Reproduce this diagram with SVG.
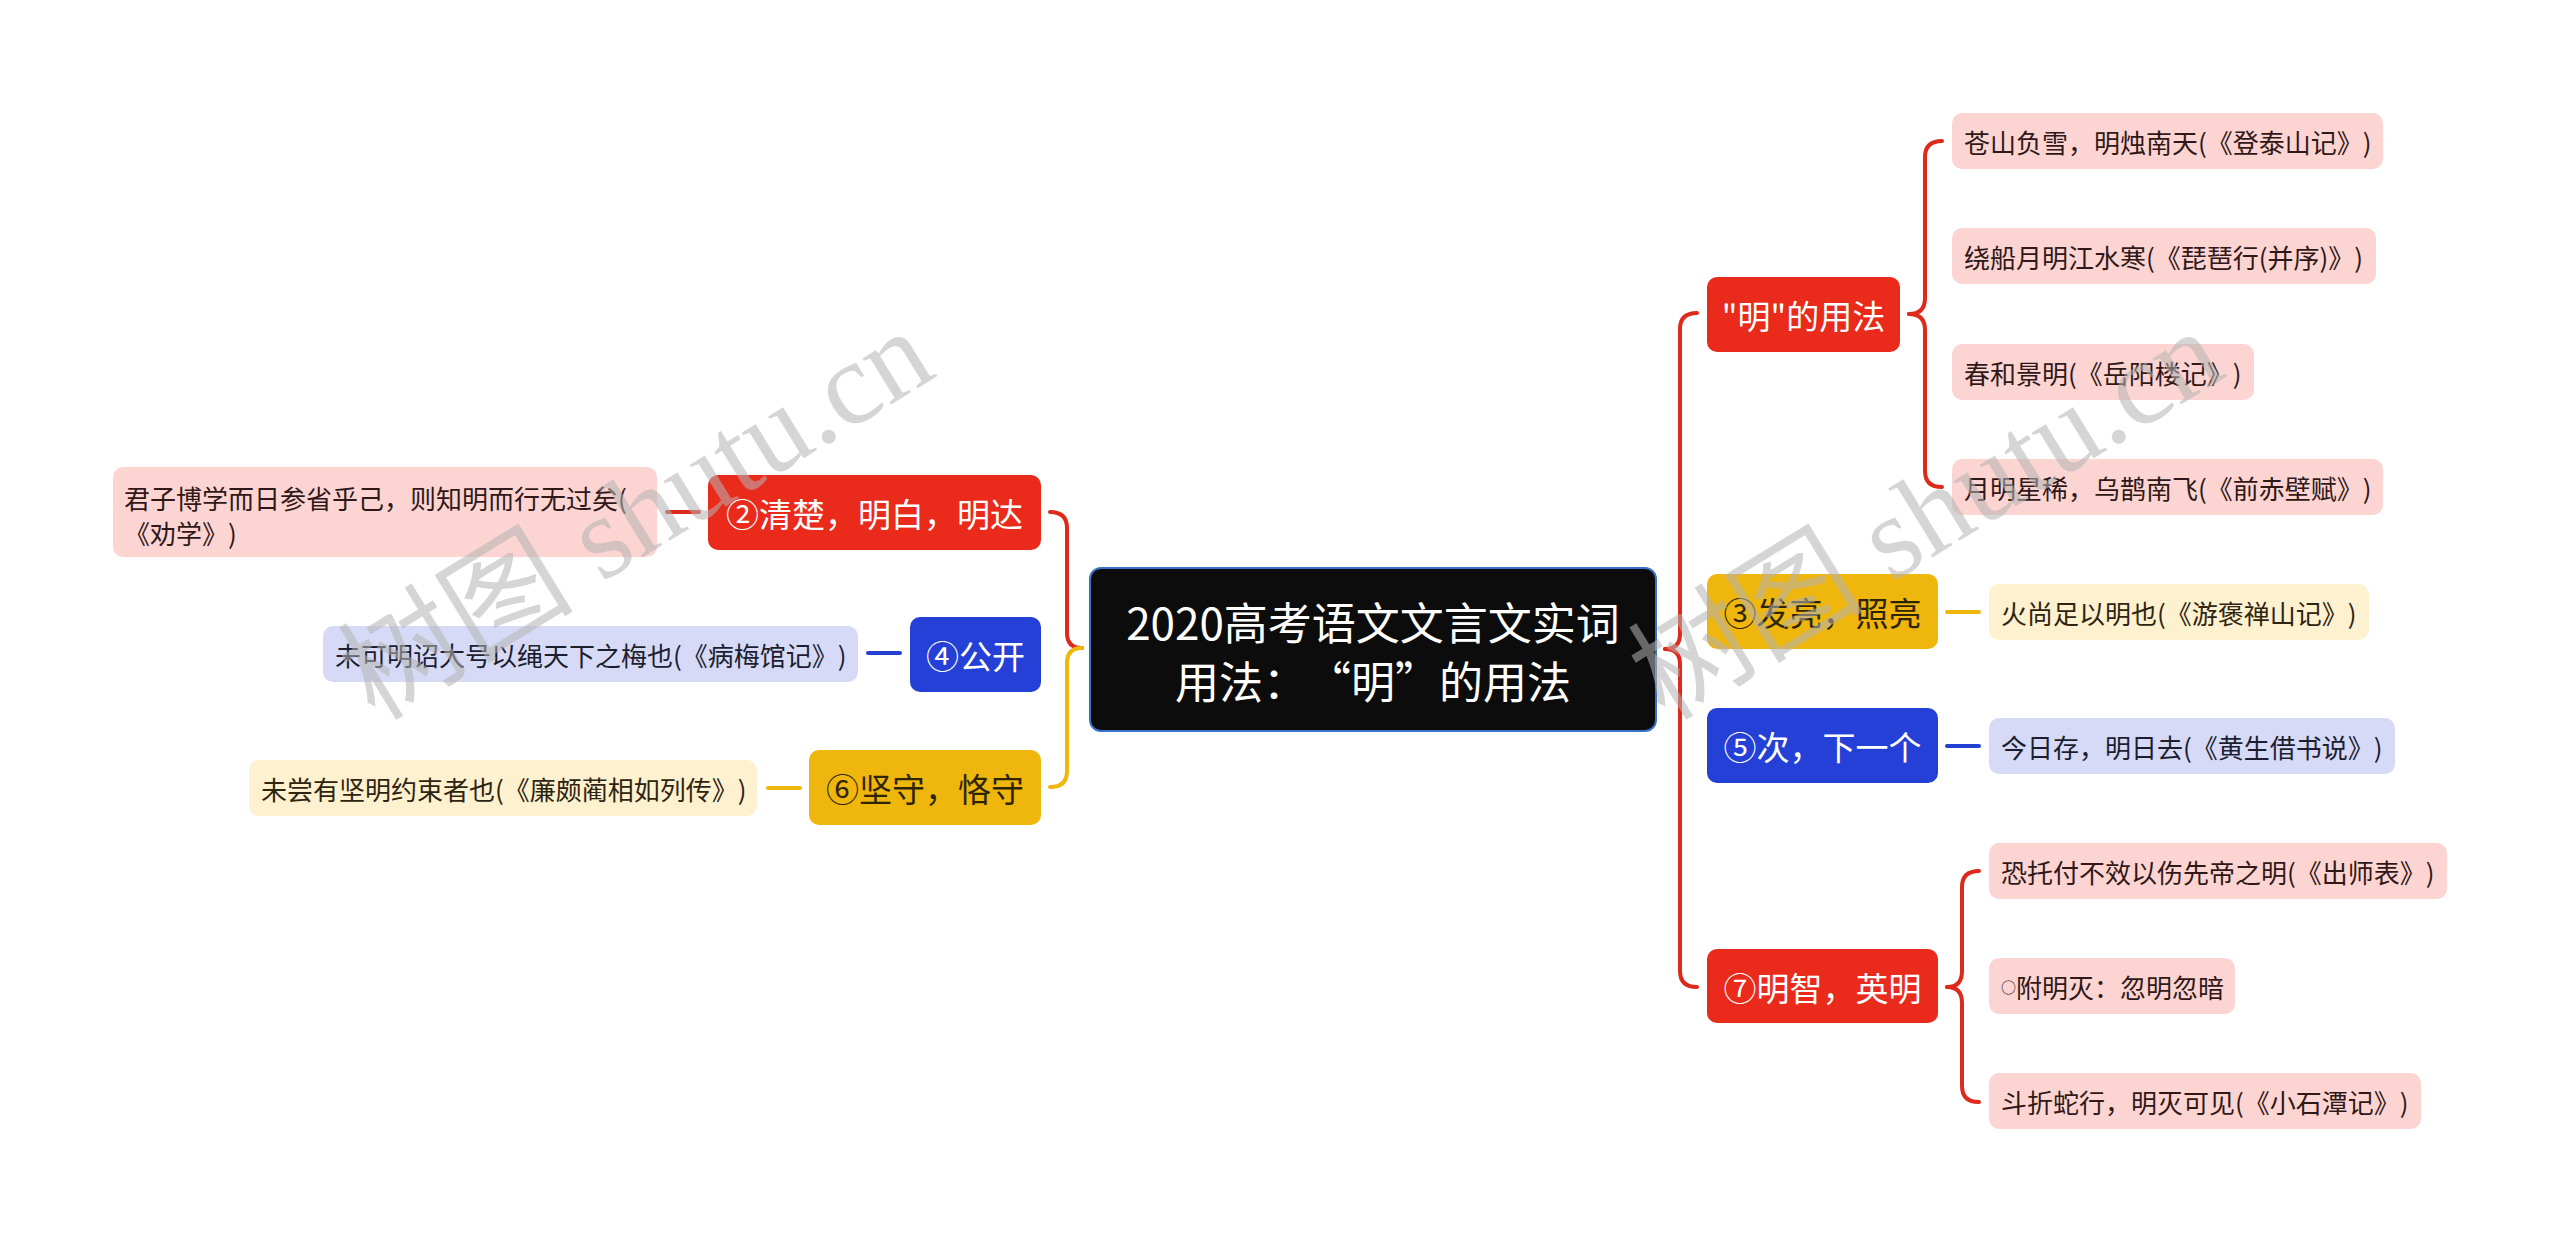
<svg xmlns="http://www.w3.org/2000/svg" width="2560" height="1243" viewBox="0 0 2560 1243">
<style>
text{font-family:"Noto Sans CJK SC","Noto Sans",sans-serif;dominant-baseline:central;text-spacing-trim:space-all}
.main{font-size:33px;text-anchor:middle}
.leaf{font-size:26px}
.w{fill:#ffffff}
.dk{fill:#2e2506}
.red{fill:#ea2a1b}
.yel{fill:#efb60d}
.blu{fill:#2440d6}
.lred{fill:#fcd5d3}
.lyel{fill:#fdf1d0}
.lblu{fill:#d6daf6}
.tr{fill:#301818}
.ty{fill:#2e2410}
.tb{fill:#1c1e30}
.c{fill:none;stroke-width:4;stroke-linecap:round}
.cr{stroke:#de2a1c}
.cy{stroke:#efb60d}
.cb{stroke:#2440d0}
.wm{font-family:"Liberation Serif","Noto Sans CJK SC",serif;font-size:118px;fill:#b4b4b4;opacity:0.55;dominant-baseline:alphabetic}
</style>
<rect width="2560" height="1243" fill="#ffffff"/>
<g id="connectors">
<path class="c cr" d="M1665 649 Q1680 649 1680 634 L1680 329 Q1680 313 1697 313"/>
<path class="c cr" d="M1665 649 Q1680 649 1680 664 L1680 971 Q1680 987 1697 987"/>
<path class="c cr" d="M1082 648 Q1067 648 1067 633 L1067 528 Q1067 512 1050 512"/>
<path class="c cy" d="M1082 648 Q1067 648 1067 663 L1067 771 Q1067 787 1050 787"/>
<path class="c cr" d="M1909 314 Q1925 314 1925 298 L1925 157 Q1925 141 1942 141"/>
<path class="c cr" d="M1909 314 Q1925 314 1925 330 L1925 471 Q1925 487 1942 487"/>
<path class="c cr" d="M1947 987 Q1962 987 1962 971 L1962 887 Q1962 871 1979 871"/>
<path class="c cr" d="M1947 987 Q1962 987 1962 1003 L1962 1086 Q1962 1102 1979 1102"/>
<path class="c cy" d="M1947 612 L1979 612"/>
<path class="c cb" d="M1947 746 L1979 746"/>
<path class="c cr" d="M667 512 L699 512"/>
<path class="c cb" d="M868 653 L900 653"/>
<path class="c cy" d="M768 788 L800 788"/>
</g>
<g id="root">
<rect x="1090" y="568" width="566" height="163" rx="11" fill="#0c0c0c" stroke="#3a72c8" stroke-width="2"/>
<text x="1373" y="621" font-size="44" text-anchor="middle" class="w">2020高考语文文言文实词</text>
<text x="1373" y="680" font-size="44" text-anchor="middle" class="w">用法：“明”的用法</text>
</g>
<g id="n-ming">
<rect class="red" x="1707" y="277" width="193" height="75" rx="10"/>
<text class="main w" x="1803.5" y="315">"明"的用法</text>
</g>
<g id="n3">
<rect class="yel" x="1707" y="574" width="231" height="75" rx="10"/>
<text class="main dk" x="1822.5" y="612">③发亮，照亮</text>
</g>
<g id="n5">
<rect class="blu" x="1707" y="708" width="231" height="75" rx="10"/>
<text class="main w" x="1822.5" y="746">⑤次，下一个</text>
</g>
<g id="n7">
<rect class="red" x="1707" y="949" width="231" height="74" rx="10"/>
<text class="main w" x="1822.5" y="987">⑦明智，英明</text>
</g>
<g id="n2">
<rect class="red" x="708" y="475" width="333" height="75" rx="10"/>
<text class="main w" x="874.5" y="513">②清楚，明白，明达</text>
</g>
<g id="n4">
<rect class="blu" x="910" y="617" width="131" height="75" rx="10"/>
<text class="main w" x="975.5" y="655">④公开</text>
</g>
<g id="n6">
<rect class="yel" x="809" y="750" width="232" height="75" rx="10"/>
<text class="main dk" x="925" y="788">⑥坚守，恪守</text>
</g>
<g id="l1">
<rect class="lred" x="1952" y="113" width="431" height="56" rx="10"/>
<text class="leaf tr" x="1964" y="141">苍山负雪，明烛南天(《登泰山记》)</text>
</g>
<g id="l2">
<rect class="lred" x="1952" y="228" width="424" height="56" rx="10"/>
<text class="leaf tr" x="1964" y="256">绕船月明江水寒(《琵琶行(并序)》)</text>
</g>
<g id="l3">
<rect class="lred" x="1952" y="344" width="302" height="56" rx="10"/>
<text class="leaf tr" x="1964" y="372">春和景明(《岳阳楼记》)</text>
</g>
<g id="l4">
<rect class="lred" x="1952" y="459" width="431" height="56" rx="10"/>
<text class="leaf tr" x="1964" y="487">月明星稀，乌鹊南飞(《前赤壁赋》)</text>
</g>
<g id="l5">
<rect class="lyel" x="1989" y="584" width="380" height="56" rx="10"/>
<text class="leaf ty" x="2001" y="612">火尚足以明也(《游褒禅山记》)</text>
</g>
<g id="l6">
<rect class="lblu" x="1989" y="718" width="406" height="56" rx="10"/>
<text class="leaf tb" x="2001" y="746">今日存，明日去(《黄生借书说》)</text>
</g>
<g id="l7">
<rect class="lred" x="1989" y="843" width="458" height="56" rx="10"/>
<text class="leaf tr" x="2001" y="871">恐托付不效以伤先帝之明(《出师表》)</text>
</g>
<g id="l8">
<rect class="lred" x="1989" y="958" width="246" height="56" rx="10"/>
<text class="leaf tr" x="2001" y="986"><tspan font-size="15">○</tspan>附明灭：忽明忽暗</text>
</g>
<g id="l9">
<rect class="lred" x="1989" y="1073" width="432" height="56" rx="10"/>
<text class="leaf tr" x="2001" y="1101">斗折蛇行，明灭可见(《小石潭记》)</text>
</g>
<g id="l10">
<rect class="lred" x="113" y="467" width="544" height="90" rx="10"/>
<text class="leaf tr" x="124" y="497">君子博学而日参省乎己，则知明而行无过矣(</text>
<text class="leaf tr" x="124" y="532">《劝学》)</text>
</g>
<g id="l11">
<rect class="lblu" x="323" y="626" width="535" height="56" rx="10"/>
<text class="leaf tb" x="335" y="654">未可明诏大号以绳天下之梅也(《病梅馆记》)</text>
</g>
<g id="l12">
<rect class="lyel" x="249" y="760" width="508" height="56" rx="10"/>
<text class="leaf ty" x="261" y="788">未尝有坚明约束者也(《廉颇蔺相如列传》)</text>
</g>
<g id="watermark">
<text class="wm" transform="translate(375 722) rotate(-31.6)">树图 shutu.cn</text>
<text class="wm" transform="translate(1665 722) rotate(-31.6)">树图 shutu.cn</text>
</g>
</svg>
